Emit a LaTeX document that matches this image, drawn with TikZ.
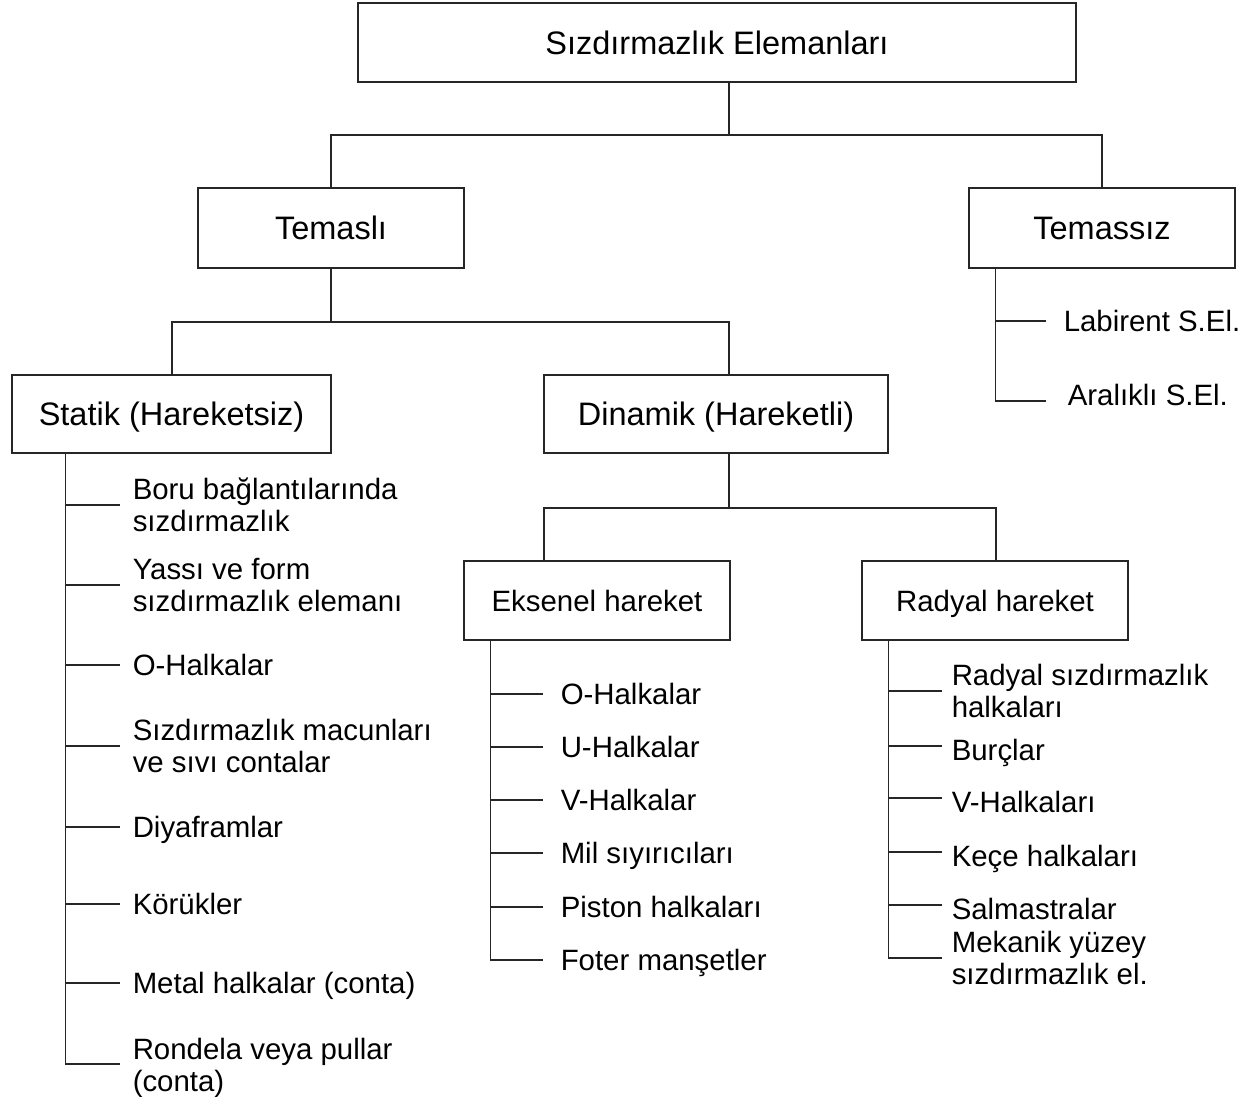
\documentclass[tikz,border=0pt]{standalone}
\usepackage{fontspec}
\setmainfont{Liberation Sans}
\begin{document}
\begin{tikzpicture}[x=1pt,y=-1pt,
  line width=1.5pt, draw=black!85,
  bigbox/.style={draw, line width=1.5pt, inner sep=0pt, text height=29.3pt, text depth=6pt, font=\fontsize{32.5}{36}\selectfont},
  midbox/.style={draw, line width=1.5pt, inner sep=0pt, text height=27pt, text depth=6pt, font=\fontsize{29.4}{33}\selectfont},
  item/.style={anchor=west, inner sep=0pt, text height=27pt, text depth=6pt, font=\fontsize{29.4}{32.5}\selectfont},
  item2/.style={anchor=west, inner sep=0pt, align=left, font=\fontsize{29.4}{32.5}\selectfont}]
\useasboundingbox (0,0) rectangle (1239,1096);
% boxes
\node[bigbox, minimum width=718pt, minimum height=79pt] (top) at (717,42.5) {Sızdırmazlık Elemanları};
\node[bigbox, minimum width=266pt, minimum height=80pt] (temasli) at (331,228) {Temaslı};
\node[bigbox, minimum width=266pt, minimum height=80pt] (temassiz) at (1102,228) {Temassız};
\node[bigbox, minimum width=319pt, minimum height=78pt] (statik) at (171.5,414) {Statik (Hareketsiz)};
\node[bigbox, minimum width=344pt, minimum height=78pt] (dinamik) at (716,414) {Dinamik (Hareketli)};
\node[midbox, minimum width=266pt, minimum height=79pt] (eksenel) at (597,600.5) {Eksenel hareket};
\node[midbox, minimum width=266pt, minimum height=79pt] (radyal) at (995,600.5) {Radyal hareket};
% tree connectors
\draw ([xshift=12pt]top.south) -- ++(0,52) coordinate (j1);
\draw (temasli.north) |- (j1) -| (temassiz.north);
\draw (temasli.south) -- ++(0,53) coordinate (j2);
\draw ([xshift=0.5pt]statik.north) |- (j2) -| ([xshift=13pt]dinamik.north);
\draw ([xshift=13pt]dinamik.south) -- ++(0,54) coordinate (j3);
\draw ([xshift=-53pt]eksenel.north) |- (j3) -| ([xshift=1pt]radyal.north);
% Temassiz items
\node[item] (t1) at (1063,321) {Labirent S.El.};
\node[item] (t2) at (1067,395) {Aralıklı S.El.};
\coordinate (ts) at ([xshift=27pt]temassiz.south west);
\draw (ts) |- ([xshift=-21pt,yshift=-6pt]t2.west);
\draw ([xshift=-17pt]t1.west) -- (ts |- t1.west);
% Statik items
\node[item2] (s1) at (132,505) {Boru bağlantılarında\\sızdırmazlık};
\node[item2] (s2) at (132,585) {Yassı ve form\\sızdırmazlık elemanı};
\node[item] (s3) at (132,665) {O-Halkalar};
\node[item2] (s4) at (132,746) {Sızdırmazlık macunları\\ve sıvı contalar};
\node[item] (s5) at (132,827) {Diyaframlar};
\node[item] (s6) at (132,904) {Körükler};
\node[item] (s7) at (132,983) {Metal halkalar (conta)};
\node[item2] (s8) at (132,1068) {Rondela veya pullar\\(conta)};
\coordinate (ss) at ([xshift=54pt]statik.south west);
\draw (ss) |- ([xshift=-12pt,yshift=4pt]s8.west);
\foreach \n in {1,...,7} \draw ([xshift=-12pt]s\n.west) -- (ss |- s\n.west);
% Eksenel items
\node[item] (e1) at (560,694) {O-Halkalar};
\node[item] (e2) at (560,747) {U-Halkalar};
\node[item] (e3) at (560,800) {V-Halkalar};
\node[item] (e4) at (560,853) {Mil sıyırıcıları};
\node[item] (e5) at (560,907) {Piston halkaları};
\node[item] (e6) at (560,960) {Foter manşetler};
\coordinate (es) at ([xshift=27pt]eksenel.south west);
\draw (es) |- ([xshift=-17pt]e6.west);
\foreach \n in {1,...,5} \draw ([xshift=-17pt]e\n.west) -- (es |- e\n.west);
% Radyal items
\node[item2] (r1) at (951,691) {Radyal sızdırmazlık\\halkaları};
\node[item] (r2) at (951,750) {Burçlar};
\node[item] (r3) at (951,802) {V-Halkaları};
\node[item] (r4) at (951,856) {Keçe halkaları};
\node[item] (r5) at (951,909) {Salmastralar};
\node[item2] (r6) at (951,958) {Mekanik yüzey\\sızdırmazlık el.};
\coordinate (rs) at ([xshift=27pt]radyal.south west);
\draw (rs) |- ([xshift=-9pt]r6.west);
\draw ([xshift=-9pt]r1.west) -- (rs |- r1.west);
\foreach \n in {2,...,5} \draw ([xshift=-9pt,yshift=4pt]r\n.west) -- ++(-53,0);
\end{tikzpicture}
\end{document}
